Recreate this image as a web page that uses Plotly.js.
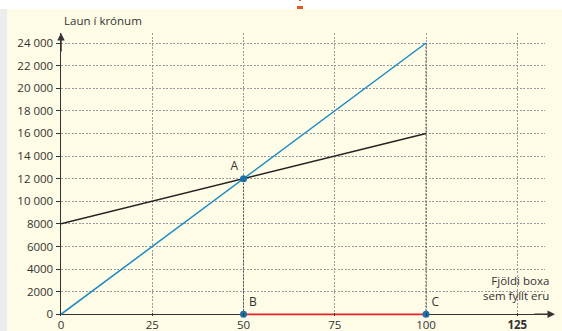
<!DOCTYPE html>
<html><head><meta charset="utf-8">
<script src="https://cdn.plot.ly/plotly-3.0.1.min.js"></script>
<style>
html,body{margin:0;padding:0;width:562px;height:331px;overflow:hidden;background:#fefbe6;}
#top{position:absolute;left:0;top:0;width:562px;height:9px;background:#ffffff;}
#left{position:absolute;left:0;top:9px;width:7px;height:322px;background:#ececec;}
#m1{position:absolute;left:297px;top:6px;width:6px;height:3px;background:#e9571e;}
#m2{position:absolute;left:299px;top:0px;width:2px;height:1px;background:#e9571e;}
#chart{position:absolute;left:0;top:0;width:562px;height:331px;}
</style></head>
<body>
<div id="top"></div><div id="left"></div><div id="m1"></div><div id="m2"></div>
<div id="chart"></div>
<script>
const xTicks=[0,25,50,75,100,125];
const xTickText=['0','25','50','75','100','<b>125</b>'];
const yTicks=[0,2000,4000,6000,8000,10000,12000,14000,16000,18000,20000,22000,24000];
const yTickText=['0','2000','4000','6000','8000','10 000','12 000','14 000','16 000','18 000','20 000','22 000','24 000'];
const blueX=[0,100], blueY=[0,24000];
const blackX=[0,100], blackY=[8000,16000];
const redX=[50,100], redY=[0,0];
const guide50X=[50,50], guide50Y=[0,12000];
const guide100X=[100,100], guide100Y=[0,24000];
const pointNames=['A','B','C'];
const pointX=[50,50,100];
const pointY=[12000,0,0];
const pointTextPos=['top left','top right','top right'];
const yTitle='Laun í krónum';
const xTitle='Fjöldi boxa<br>sem fyllt eru';

const FONT='Open Sans, sans-serif';
const traces=[
 {x:guide50X,y:guide50Y,mode:'lines',line:{color:'#555',width:1,dash:'2px,1.5px'},hoverinfo:'skip'},
 {x:guide100X,y:guide100Y,mode:'lines',line:{color:'#555',width:1,dash:'2px,1.5px'},hoverinfo:'skip'},
 {x:blackX,y:blackY,mode:'lines',line:{color:'#222',width:1.5}},
 {x:blueX,y:blueY,mode:'lines',line:{color:'#1b8bc4',width:1.5}},
 {x:redX,y:redY,mode:'lines',line:{color:'#e8232b',width:1.8}},
 {x:pointX,y:pointY,mode:'markers+text',text:pointNames,textposition:pointTextPos,
  textfont:{family:FONT,size:12,color:'#333'},
  marker:{color:'#1a70a8',size:7},cliponaxis:false}
];
const layout={
 width:562,height:331,showlegend:false,
 margin:{l:61,r:17,t:33,b:15.3,pad:0},
 paper_bgcolor:'rgba(0,0,0,0)',plot_bgcolor:'rgba(0,0,0,0)',
 font:{family:FONT,size:11.5,color:'#333'},
 xaxis:{range:[0,132.6],tickvals:xTicks,ticktext:xTickText,showgrid:true,gridcolor:'#999',griddash:'2px,1.5px',gridwidth:1,
   zeroline:false,showline:false,ticks:'inside',ticklen:3,tickcolor:'#333',
   tickfont:{family:FONT,size:11.5,color:'#333'},fixedrange:true},
 yaxis:{range:[-150,24885],tickvals:yTicks,ticktext:yTickText,showgrid:true,gridcolor:'#999',griddash:'2px,1.5px',gridwidth:1,
   zeroline:true,zerolinecolor:'#333',zerolinewidth:1.5,showline:true,linecolor:'#333',linewidth:1.5,ticks:'outside',ticklen:4,tickcolor:'#333',
   layer:'below traces',tickfont:{family:FONT,size:11.5,color:'#333'},fixedrange:true},
 annotations:[
  {xref:'paper',yref:'paper',x:0,y:1,ax:0,ay:20,text:'',showarrow:true,arrowhead:2,arrowsize:1,arrowwidth:1.5,arrowcolor:'#333'},
  {xref:'paper',yref:'y',x:1.0207,y:0,ax:-22,ay:0,text:'',showarrow:true,arrowhead:2,arrowsize:1,arrowwidth:1.5,arrowcolor:'#333'},
  {xref:'paper',yref:'paper',x:0.002,y:1.01,xanchor:'left',yanchor:'bottom',text:yTitle,showarrow:false,font:{family:FONT,size:11.5,color:'#333'}},
  {xref:'paper',yref:'paper',x:1.0125,y:0.04,xanchor:'right',yanchor:'bottom',align:'right',text:xTitle,showarrow:false,font:{family:FONT,size:11.5,color:'#333'}}
 ]
};
Plotly.newPlot('chart',traces,layout,{staticPlot:true});
</script>
</body></html>
